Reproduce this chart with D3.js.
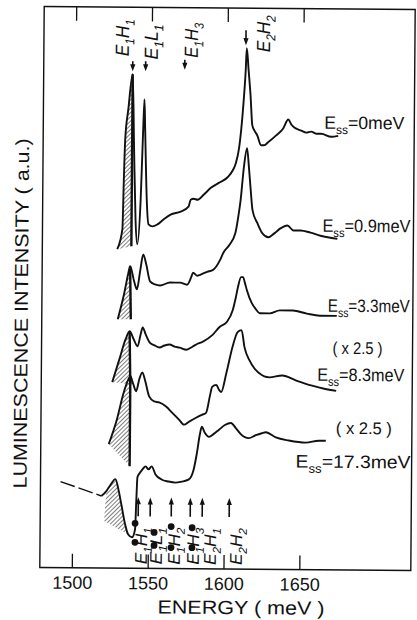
<!DOCTYPE html>
<html lang="en">
<head>
<meta charset="UTF-8" />
<title>Luminescence spectra</title>
<style>
  body { margin: 0; background: #fff; }
  text { font-family: "Liberation Sans", Arial, sans-serif; fill: #111; }
</style>
</head>
<body>
<svg id="svg" width="417" height="620"></svg>
<script src="https://d3js.org/d3.v7.min.js"></script>
<script>
// energies in meV, intensities in arbitrary units (vertical offsets already included)
const seriesLabels = ['0meV', '0.9meV', '3.3meV', '8.3meV', '17.3meV'];

const energy1 = [1528.3,1531.6,1532.3,1533.0,1534.9,1537.6,1538.9,1540.2,1541.5,1543.5,1544.8,1545.5,1546.1,1547.5,1548.8,1551.4,1554.7,1558.7,1563.3,1569.9,1575.1,1576.5,1578.4,1581.1,1585.0,1589.7,1594.9,1600.9,1604.2,1606.1,1608.1,1609.4,1610.7,1612.1,1612.7,1614.0,1615.4,1616.7,1618.0,1620.0,1622.6,1624.6,1627.2,1632.5,1637.1,1640.4,1642.4,1644.4,1649.0,1652.3,1655.6,1658.9,1662.2,1668.8,1673.4];
const intensity1 = [319,339,389,429,459,494,419,349,324,369,439,469,439,369,344,342,344,349,354,357,362,369,370,369,374,381,386,392,399,406,421,439,464,499,521,499,474,444,439,434,424,424,427,434,441,450,445,442,439,437,438,436,436,433,434];

const energy2 = [1529.0,1533.0,1535.6,1536.9,1539.6,1541.5,1543.5,1545.5,1547.5,1550.1,1553.4,1556.7,1563.3,1569.9,1574.5,1577.1,1578.4,1581.1,1583.1,1587.7,1591.6,1596.2,1598.2,1602.2,1606.1,1608.1,1609.4,1611.4,1613.4,1614.7,1616.0,1617.3,1620.6,1623.9,1627.9,1631.8,1635.8,1640.4,1644.4,1649.0,1655.6,1662.2,1668.8,1673.4];
const intensity2 = [249,274,294,302,287,279,297,314,304,287,284,283,286,286,284,291,296,293,294,297,299,309,316,324,336,354,369,402,421,402,379,359,346,336,332,336,341,344,339,339,337,334,332,331];

const energy3 = [1525.7,1530.3,1534.3,1536.9,1539.6,1542.2,1544.2,1545.5,1547.5,1550.1,1553.4,1556.7,1560.0,1563.3,1566.6,1569.9,1574.5,1578.4,1581.7,1585.0,1591.6,1596.2,1600.9,1604.8,1606.8,1608.1,1610.1,1611.4,1612.7,1614.0,1617.3,1620.0,1622.6,1629.2,1635.8,1644.4,1653.6,1662.2,1673.4];
const intensity3 = [186,209,229,237,229,222,234,241,234,226,223,221,223,224,222,221,219,222,225,227,234,242,247,259,272,282,292,292,286,279,266,260,256,256,259,259,256,254,254];

const energy4 = [1523.7,1529.0,1533.0,1535.6,1537.6,1539.6,1541.5,1543.5,1545.5,1547.5,1550.1,1553.4,1556.7,1561.3,1565.3,1569.9,1573.2,1576.5,1581.1,1585.0,1587.7,1590.3,1591.6,1594.3,1596.2,1597.6,1600.9,1604.8,1608.1,1610.7,1612.7,1616.0,1619.3,1622.6,1629.2,1637.8,1647.0,1657.5,1665.5,1673.4];
const intensity4 = [124,149,174,186,192,184,177,189,196,187,172,167,166,162,156,149,144,147,151,154,156,174,182,184,179,177,196,222,237,239,222,209,201,196,192,194,189,184,181,179];

const energy5 = [1519.1,1522.4,1525.0,1528.3,1530.3,1532.3,1534.9,1536.9,1539.6,1541.5,1542.2,1542.8,1544.2,1546.1,1548.1,1550.1,1552.1,1554.7,1558.7,1563.3,1567.9,1571.9,1576.5,1579.8,1581.7,1583.7,1585.0,1587.0,1589.7,1592.9,1596.2,1600.2,1604.2,1607.4,1610.7,1616.0,1620.6,1624.6,1627.2,1633.8,1642.4,1653.6,1662.2,1666.8];
const intensity5 = [72,77,83,89,79,64,44,34,31,39,69,91,95,99,102,99,102,94,89,87,86,87,89,99,114,134,142,136,132,135,139,144,146,141,135,131,134,136,137,132,129,127,129,129];
// dashed low-energy tail of the bottom spectrum
const dashEnergy5 = [1492.1,1504.0,1519.1];
const dashIntensity5 = [86,80,72];

// hatched E1H1 peaks: curve span and closing base point
const hatchFrom = [1528.3,1529.0,1525.7,1523.7,1522.4];
const hatchTo = [1537.6,1536.9,1536.9,1537.6,1536.9];
const hatchBaseE = [1537.6,1537.6,1537.6,1537.6,1521.0];
const hatchBaseI = [322,249,184,102,47];

// transition markers
const topNames = ['E1H1','E1L1','E1H3','E2H2'];
const topEnergy = [1537.6,1546.1,1571.9,1612.1];
const bottomNames = ['E1H1','E1L1','E1H2','E1H3','E2H1','E2H2'];
const bottomEnergy = [1543.5,1551.4,1565.3,1577.8,1585.7,1603.5];
const dotEnergy = [1541.5,1554.1,1565.3,1579.1];
const dotUpper = [45,36,42,41];
const dotLower = [26,23,21,21];

const xTicks = [1500,1550,1600,1650];

const energies = [energy1, energy2, energy3, energy4, energy5];
const intensities = [intensity1, intensity2, intensity3, intensity4, intensity5];

const svg = d3.select('#svg');
const g = svg.append('g').attr('transform', 'rotate(0.45,228,289)'); // scan is slightly tilted

const x = d3.scaleLinear().domain([1500, 1650]).range([74, 301.5]);
const y = d3.scaleLinear().domain([0, 561]).range([569, 8]);

const defs = svg.append('defs');
const pat = defs.append('pattern').attr('id', 'hatch')
  .attr('patternUnits', 'userSpaceOnUse')
  .attr('width', 3).attr('height', 3)
  .attr('patternTransform', 'rotate(45)');
pat.append('line').attr('x1', 0).attr('y1', 0).attr('x2', 0).attr('y2', 3)
  .attr('stroke', '#111').attr('stroke-width', 1.1);

// frame
g.append('rect').attr('x', 42).attr('y', 8).attr('width', 371).attr('height', 561)
  .attr('fill', 'none').attr('stroke', '#111').attr('stroke-width', 1.4);

// axes (ticks pointing inward)
const bottomAxis = g.append('g').attr('transform', 'translate(0,569)')
  .call(d3.axisBottom(x).tickValues(xTicks).tickSize(-14).tickFormat(d3.format('d')));
bottomAxis.select('.domain').remove();
bottomAxis.selectAll('line').attr('stroke', '#111').attr('stroke-width', 1.3);
bottomAxis.selectAll('text').attr('y', 21).attr('dy', null)
  .style('font-size', '18px').style('font-family', '"Liberation Sans", Arial, sans-serif').attr('fill', '#111');

const topAxis = g.append('g').attr('transform', 'translate(0,8)')
  .call(d3.axisTop(x).tickValues(xTicks).tickSize(-14).tickFormat(''));
topAxis.select('.domain').remove();
topAxis.selectAll('line').attr('stroke', '#111').attr('stroke-width', 1.3);

// axis titles
g.append('text').attr('x', 243.5).attr('y', 614).attr('text-anchor', 'middle')
  .attr('font-size', 19).attr('textLength', 167).attr('lengthAdjust', 'spacingAndGlyphs')
  .text('ENERGY  ( meV )');
g.append('text').attr('transform', 'translate(28,315) rotate(-90)').attr('text-anchor', 'middle')
  .attr('font-size', 19).attr('textLength', 350).attr('lengthAdjust', 'spacingAndGlyphs')
  .text('LUMINESCENCE   INTENSITY   ( a.u.)');

// hatched peaks
const poly = d3.line().x(d => x(d[0])).y(d => y(d[1]));
energies.forEach((es, i) => {
  const pts = es.map((e, j) => [e, intensities[i][j]])
    .filter(d => d[0] >= hatchFrom[i] && d[0] <= hatchTo[i]);
  pts.push([hatchBaseE[i], hatchBaseI[i]]);
  g.append('path').attr('d', poly(pts) + 'Z').attr('fill', 'url(#hatch)').attr('stroke', 'none');
  if (i < 4) {
    const top = pts[pts.length - 2];
    g.append('path').attr('d', poly([top, [hatchBaseE[i], hatchBaseI[i]]]))
      .attr('stroke', '#111').attr('stroke-width', 2.4).attr('fill', 'none');
  }
});

// spectra
const line = d3.line().x(d => x(d[0])).y(d => y(d[1])).curve(d3.curveMonotoneX);
energies.forEach((es, i) => {
  g.append('path').datum(d3.zip(es, intensities[i]))
    .attr('d', line).attr('fill', 'none').attr('stroke', '#111')
    .attr('stroke-width', 1.9).attr('stroke-linejoin', 'round');
});
g.append('path').datum(d3.zip(dashEnergy5, dashIntensity5))
  .attr('d', line).attr('fill', 'none').attr('stroke', '#111')
  .attr('stroke-width', 1.4).attr('stroke-dasharray', '15,4');

// text with subscripts
function rich(sel, parts, fs) {
  let shifted = false;
  parts.forEach(([s, sub]) => {
    const t = sel.append('tspan').text(s);
    if (sub) {
      t.attr('font-size', fs * 0.68);
      if (!shifted) { t.attr('dy', fs * 0.28); shifted = true; }
    } else if (shifted) {
      t.attr('dy', -fs * 0.28); shifted = false;
    }
  });
}
const splitName = s => s.split('').map(c => [c, /\d/.test(c)]);

// squeeze a text along its direction to a given length
function fitWidth(t, px, py, w, rot) {
  const nat = t.node().getComputedTextLength();
  t.attr('transform', `translate(${px},${py})${rot ? ' rotate(-90)' : ''} scale(${w / nat},1)`);
}

function arrow(px, y0, y1) {
  const dir = Math.sign(y1 - y0);
  g.append('line').attr('x1', px).attr('x2', px).attr('y1', y0).attr('y2', y1 - dir * 5)
    .attr('stroke', '#111').attr('stroke-width', 1.6);
  g.append('path').attr('d', `M${px},${y1} L${px - 2.6},${y1 - dir * 7} L${px + 2.6},${y1 - dir * 7} Z`)
    .attr('fill', '#111');
}

// series labels
const labelX = [323, 322, 328, 318, 297];
const labelY = [128, 231, 311, 380, 467];
const labelW = [80, 88, 82, 87, 115];
seriesLabels.forEach((s, i) => {
  const t = g.append('text').attr('font-size', 18);
  rich(t, [['E', false], ['ss', true], ['=' + s, false]], 18);
  fitWidth(t, labelX[i], labelY[i], labelW[i], false);
});
[[333, 353, 50], [337, 433, 56]].forEach(([px, py, w]) => {
  const t = g.append('text').attr('font-size', 17).text('( x 2.5 )');
  fitWidth(t, px, py, w, false);
});

// top transition markers
const topDx = [-4, 12, 13, 24];
const topTextY = [57, 60, 58, 52];
const topLen = [37, 35, 35, 37];
const topArrow = [[62, 72], [62, 72], [60, 70], [30, 45]];
topNames.forEach((n, i) => {
  const px = x(topEnergy[i]);
  arrow(px, topArrow[i][0], topArrow[i][1]);
  const t = g.append('text').attr('font-size', 19).attr('font-style', 'italic');
  rich(t, splitName(n), 19);
  fitWidth(t, px + topDx[i], topTextY[i], topLen[i], true);
});

// bottom transition markers
const bottomDx = [9, 12, 9, 9, 14, 13];
bottomNames.forEach((n, i) => {
  const px = x(bottomEnergy[i]);
  arrow(px, 517, 498);
  const t = g.append('text').attr('font-size', 17).attr('font-style', 'italic');
  rich(t, splitName(n), 17);
  fitWidth(t, px + bottomDx[i], 565, 37, true);
});
dotEnergy.forEach((e, i) => {
  g.append('circle').attr('cx', x(e)).attr('cy', y(dotUpper[i])).attr('r', 3.4).attr('fill', '#111');
  g.append('circle').attr('cx', x(e)).attr('cy', y(dotLower[i])).attr('r', 3.4).attr('fill', '#111');
});
</script>
</body>
</html>
